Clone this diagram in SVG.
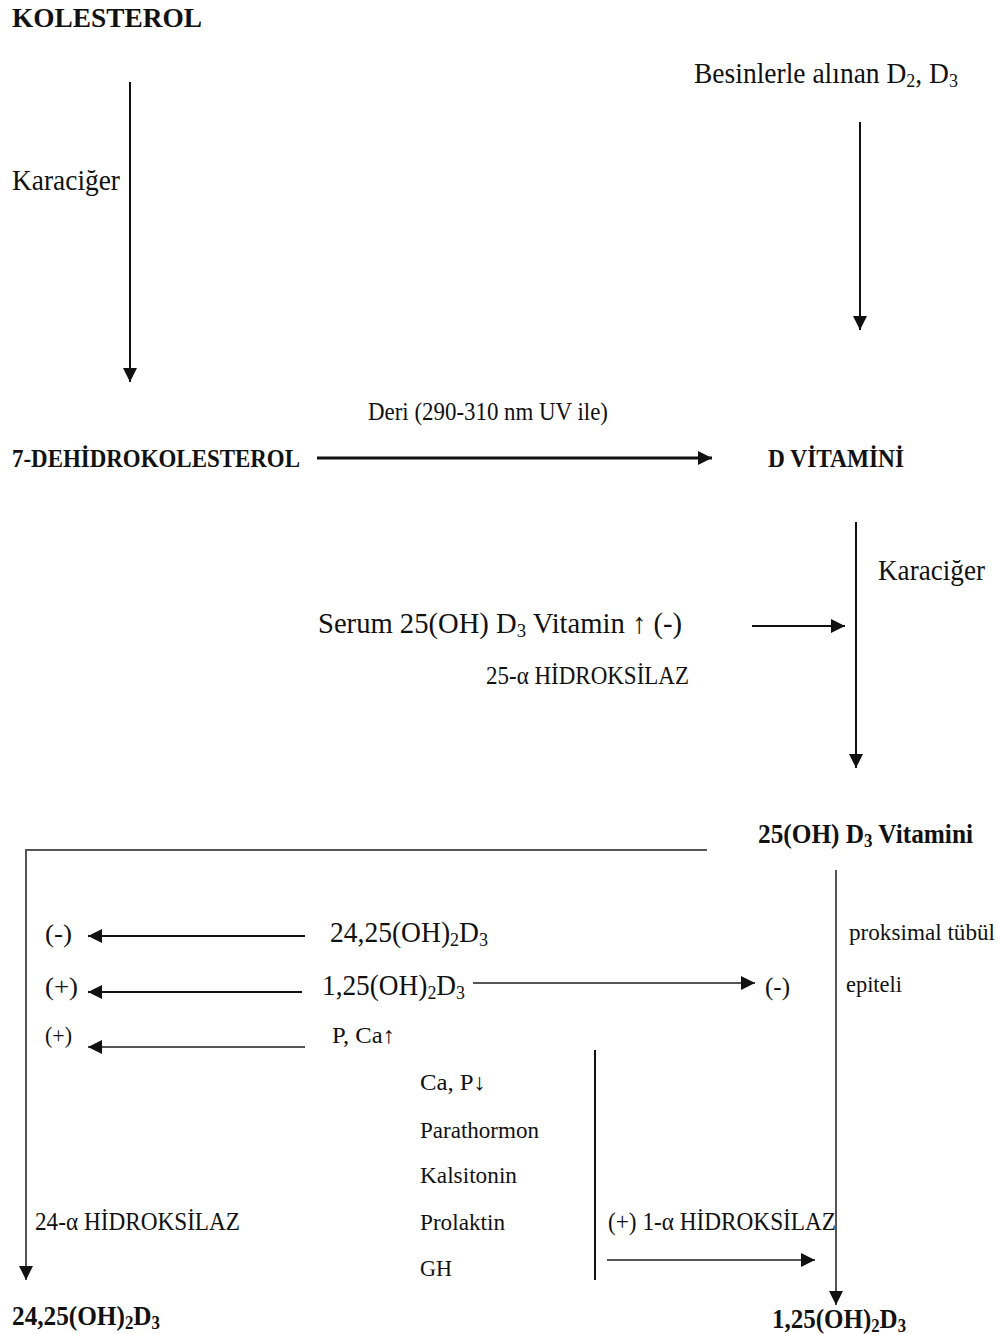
<svg xmlns="http://www.w3.org/2000/svg" width="999" height="1334" viewBox="0 0 999 1334">
<style>
text{font-family:"Liberation Serif","Times New Roman",serif;fill:#111}
.b{font-weight:bold}
.l{stroke:#111;stroke-width:2;fill:none}
.t{stroke:#111;stroke-width:3;fill:none}
.g{stroke:#555;stroke-width:2;fill:none}
</style>
<defs>
<marker id="ah" viewBox="0 0 10 10" refX="10" refY="5" markerWidth="15" markerHeight="14" markerUnits="userSpaceOnUse" orient="auto">
<path d="M0,0 L10,5 L0,10 Z" fill="#111"/>
</marker>
<marker id="ahs" viewBox="0 0 10 10" refX="10" refY="5" markerWidth="14" markerHeight="14" markerUnits="userSpaceOnUse" orient="auto">
<path d="M0,0 L10,5 L0,10 Z" fill="#111"/>
</marker>
</defs>
<rect width="999" height="1334" fill="#fff"/>

<g id="connectors">
<line class="l" x1="130" y1="82" x2="130" y2="382" marker-end="url(#ah)"/>
<line class="l" x1="860" y1="122" x2="860" y2="330" marker-end="url(#ah)"/>
<line class="t" x1="317" y1="458" x2="712" y2="458" marker-end="url(#ah)"/>
<line class="l" x1="856" y1="522" x2="856" y2="768" marker-end="url(#ah)"/>
<line class="l" x1="752" y1="626" x2="845" y2="626" marker-end="url(#ahs)"/>
<polyline class="g" points="707,850 26,850 26,1280" marker-end="url(#ah)"/>
<line class="g" x1="836" y1="870" x2="836" y2="1305" marker-end="url(#ah)"/>
<line class="l" x1="305" y1="936" x2="88" y2="936" marker-end="url(#ah)"/>
<line class="l" x1="302" y1="992" x2="88" y2="992" marker-end="url(#ah)"/>
<line class="g" x1="473" y1="983" x2="755" y2="983" marker-end="url(#ah)"/>
<line class="g" x1="305" y1="1047" x2="88" y2="1047" marker-end="url(#ah)"/>
<line class="l" x1="595" y1="1050" x2="595" y2="1280"/>
<line class="g" x1="607" y1="1260" x2="815" y2="1260" marker-end="url(#ah)"/>
</g>

<g id="kolesterol"><text class="b" x="12" y="27" font-size="28" textLength="190" lengthAdjust="spacingAndGlyphs">KOLESTEROL</text></g>
<g id="karaciger1"><text x="12" y="190" font-size="29" textLength="108" lengthAdjust="spacingAndGlyphs">Karaciğer</text></g>
<g id="besin"><text x="694" y="83" font-size="29" textLength="264" lengthAdjust="spacingAndGlyphs">Besinlerle alınan D<tspan font-size="19" dy="4">2</tspan><tspan dy="-4">, D</tspan><tspan font-size="19" dy="4">3</tspan></text></g>
<g id="deri"><text x="368" y="420" font-size="25" textLength="240" lengthAdjust="spacingAndGlyphs">Deri (290-310 nm UV ile)</text></g>
<g id="dehidro"><text class="b" x="12" y="467" font-size="25" textLength="288" lengthAdjust="spacingAndGlyphs">7-DEHİDROKOLESTEROL</text></g>
<g id="dvitamini"><text class="b" x="768" y="467" font-size="25" textLength="136" lengthAdjust="spacingAndGlyphs">D VİTAMİNİ</text></g>
<g id="karaciger2"><text x="878" y="580" font-size="29" textLength="107" lengthAdjust="spacingAndGlyphs">Karaciğer</text></g>
<g id="serum"><text x="318" y="633" font-size="29" textLength="364" lengthAdjust="spacingAndGlyphs">Serum 25(OH) D<tspan font-size="19" dy="4">3</tspan><tspan dy="-4"> Vitamin ↑ (-)</tspan></text></g>
<g id="hidroksilaz25"><text x="486" y="684" font-size="25" textLength="203" lengthAdjust="spacingAndGlyphs">25-α HİDROKSİLAZ</text></g>
<g id="vit25"><text class="b" x="758" y="843" font-size="27" textLength="215" lengthAdjust="spacingAndGlyphs">25(OH) D<tspan font-size="18" dy="4">3</tspan><tspan dy="-4"> Vitamini</tspan></text></g>
<g id="proksimal"><text x="849" y="940" font-size="23" textLength="146" lengthAdjust="spacingAndGlyphs">proksimal tübül</text></g>
<g id="epiteli"><text x="846" y="992" font-size="23" textLength="56" lengthAdjust="spacingAndGlyphs">epiteli</text></g>
<g id="neg1"><text x="45" y="942" font-size="26" textLength="27" lengthAdjust="spacingAndGlyphs">(-)</text></g>
<g id="d2425a"><text x="330" y="942" font-size="29" textLength="158" lengthAdjust="spacingAndGlyphs">24,25(OH)<tspan font-size="19" dy="4">2</tspan><tspan dy="-4">D</tspan><tspan font-size="19" dy="4">3</tspan></text></g>
<g id="pos1"><text x="45" y="995" font-size="26" textLength="33" lengthAdjust="spacingAndGlyphs">(+)</text></g>
<g id="d125a"><text x="322" y="995" font-size="29" textLength="143" lengthAdjust="spacingAndGlyphs">1,25(OH)<tspan font-size="19" dy="4">2</tspan><tspan dy="-4">D</tspan><tspan font-size="19" dy="4">3</tspan></text></g>
<g id="neg2"><text x="765" y="995" font-size="26" textLength="25" lengthAdjust="spacingAndGlyphs">(-)</text></g>
<g id="pos2"><text x="45" y="1043" font-size="23" textLength="27" lengthAdjust="spacingAndGlyphs">(+)</text></g>
<g id="pca"><text x="332" y="1043" font-size="23" textLength="63" lengthAdjust="spacingAndGlyphs">P, Ca↑</text></g>
<g id="factors">
<text x="420" y="1090" font-size="23" textLength="66" lengthAdjust="spacingAndGlyphs">Ca, P↓</text>
<text x="420" y="1138" font-size="23" textLength="119" lengthAdjust="spacingAndGlyphs">Parathormon</text>
<text x="420" y="1183" font-size="23" textLength="97" lengthAdjust="spacingAndGlyphs">Kalsitonin</text>
<text x="420" y="1230" font-size="23" textLength="85" lengthAdjust="spacingAndGlyphs">Prolaktin</text>
<text x="420" y="1276" font-size="23" textLength="32" lengthAdjust="spacingAndGlyphs">GH</text>
</g>
<g id="hidroksilaz24"><text x="35" y="1230" font-size="25" textLength="205" lengthAdjust="spacingAndGlyphs">24-α HİDROKSİLAZ</text></g>
<g id="hidroksilaz1"><text x="608" y="1230" font-size="25" textLength="228" lengthAdjust="spacingAndGlyphs">(+) 1-α HİDROKSİLAZ</text></g>
<g id="d2425b"><text class="b" x="12" y="1325" font-size="27" textLength="148" lengthAdjust="spacingAndGlyphs">24,25(OH)<tspan font-size="18" dy="4">2</tspan><tspan dy="-4">D</tspan><tspan font-size="18" dy="4">3</tspan></text></g>
<g id="d125b"><text class="b" x="772" y="1328" font-size="27" textLength="134" lengthAdjust="spacingAndGlyphs">1,25(OH)<tspan font-size="18" dy="4">2</tspan><tspan dy="-4">D</tspan><tspan font-size="18" dy="4">3</tspan></text></g>
</svg>
